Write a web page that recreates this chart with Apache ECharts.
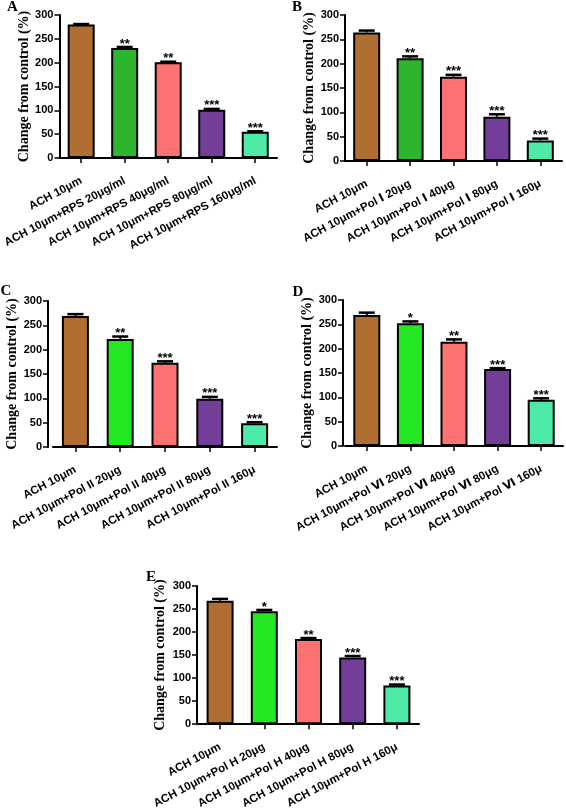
<!DOCTYPE html>
<html><head><meta charset="utf-8">
<script src="https://cdn.jsdelivr.net/npm/echarts@6/dist/echarts.min.js"></script>
<style>html,body{margin:0;padding:0;background:#fff}#c{width:566px;height:811px}</style>
</head><body><div id="c"></div>
<script>
// ---- data ----
const yAxisName = 'Change from control (%)';
const yMin = 0, yMax = 300, yStep = 50;

const catsA = ['ACH 10μm','ACH 10μm+RPS 20μg/ml','ACH 10μm+RPS 40μg/ml','ACH 10μm+RPS 80μg/ml','ACH 10μm+RPS 160μg/ml'];
const valsA = [280, 231, 201, 101, 55];
const errA  = [1, 2, 1, 2, 1];
const sigA  = ['', '**', '**', '***', '***'];

const catsB = ['ACH 10μm','ACH 10μm+Pol Ⅰ 20μg','ACH 10μm+Pol Ⅰ 40μg','ACH 10μm+Pol Ⅰ 80μg','ACH 10μm+Pol Ⅰ 160μ'];
const valsB = [264, 211, 173, 91, 42];
const errB  = [4, 4, 4, 5, 4];
const sigB  = ['', '**', '***', '***', '***'];

const catsC = ['ACH 10μm','ACH 10μm+Pol II 20μg','ACH 10μm+Pol II 40μg','ACH 10μm+Pol II 80μg','ACH 10μm+Pol II 160μ'];
const valsC = [269, 222, 173, 99, 49];
const errC  = [4, 5, 3, 4, 2];
const sigC  = ['', '**', '***', '***', '***'];

const catsD = ['ACH 10μm','ACH 10μm+Pol Ⅵ 20μg','ACH 10μm+Pol Ⅵ 40μg','ACH 10μm+Pol Ⅵ 80μg','ACH 10μm+Pol Ⅵ 160μ'];
const valsD = [269, 252, 214, 158, 95];
const errD  = [5, 4, 5, 2, 3];
const sigD  = ['', '*', '**', '***', '***'];

const catsE = ['ACH 10μm','ACH 10μm+Pol H 20μg','ACH 10μm+Pol H 40μg','ACH 10μm+Pol H 80μg','ACH 10μm+Pol H 160μ'];
const valsE = [268, 245, 185, 145, 84];
const errE  = [4, 3, 2, 3, 2];
const sigE  = ['', '*', '**', '***', '***'];

// ---- styles / layout ----
const colorsDark  = ['#B06E30', '#2DB52D', '#FF7272', '#733E97', '#4EEBA8'];
const colorsLight = ['#B06E30', '#22E822', '#FF7272', '#733E97', '#4EEBA8'];
const sansFont = '"Liberation Sans", Arial, "DejaVu Sans", "Noto Sans CJK SC", sans-serif';
const serifFont = '"Liberation Serif", "Times New Roman", serif';

const panels = [
  {letter:'A', cats:catsA, vals:valsA, err:errA, sig:sigA, colors:colorsDark,  grid:{left:59, top:15,  width:218, height:143}, off:0, gap:25, lp:[12.5, 7.5]},
  {letter:'B', cats:catsB, vals:valsB, err:errB, sig:sigB, colors:colorsDark,  grid:{left:345,top:15,  width:217, height:146}, off:0, gap:27, lp:[297, 7.5]},
  {letter:'C', cats:catsC, vals:valsC, err:errC, sig:sigC, colors:colorsLight, grid:{left:53, top:301, width:224, height:146}, off:5, gap:19, lp:[6, 291]},
  {letter:'D', cats:catsD, vals:valsD, err:errD, sig:sigD, colors:colorsLight, grid:{left:345,top:300, width:218, height:146}, off:2, gap:26, lp:[298, 292]},
  {letter:'E', cats:catsE, vals:valsE, err:errE, sig:sigE, colors:colorsLight, grid:{left:198,top:586, width:221, height:147}, off:1, gap:30, lp:[151, 577]}
];

const grids = [], xAxes = [], yAxes = [], series = [], graphics = [];
panels.forEach((p, k) => {
  grids.push(Object.assign({containLabel:false}, p.grid));
  xAxes.push({
    type:'category', gridIndex:k, data:p.cats, boundaryGap:true,
    axisLine:{show:true, lineStyle:{color:'#000', width:2}},
    axisTick:{show:true, alignWithLabel:true, length:5, lineStyle:{color:'#000', width:1.5}},
    axisLabel:{interval:0, rotate:28, margin:22, color:'#000', fontFamily:sansFont, fontWeight:'bold', fontSize:11.5},
    splitLine:{show:false}
  });
  yAxes.push({
    type:'value', gridIndex:k, min:yMin, max:yMax, interval:yStep, offset:p.off,
    name:yAxisName, nameLocation:'middle', nameGap:p.gap, nameRotate:90,
    nameTextStyle:{fontFamily:serifFont, fontWeight:'bold', fontSize:14, color:'#000'},
    axisLine:{show:true, lineStyle:{color:'#000', width:2}},
    axisTick:{show:true, length:5, lineStyle:{color:'#000', width:1.5}},
    axisLabel:{margin:6, color:'#000', fontFamily:sansFont, fontWeight:'bold', fontSize:11},
    splitLine:{show:false}
  });
  series.push({
    type:'bar', xAxisIndex:k, yAxisIndex:k, barWidth:27, z:2,
    data:p.vals.map((v, i) => ({value:v, itemStyle:{color:p.colors[i]}})),
    itemStyle:{borderColor:'#000', borderWidth:2},
    emphasis:{disabled:true}, animation:false
  });
  const sig = p.sig;
  series.push({
    type:'custom', xAxisIndex:k, yAxisIndex:k, z:5, animation:false,
    data:p.vals.map((v, i) => [i, v, p.err[i]]),
    encode:{x:0, y:1},
    renderItem:(params, api) => {
      const i = api.value(0), v = api.value(1), e = api.value(2);
      const top = api.coord([i, v + e]);
      const base = api.coord([i, v]);
      const children = [
        {type:'line', shape:{x1:top[0], y1:base[1], x2:top[0], y2:top[1]}, style:{stroke:'#000', lineWidth:2}},
        {type:'line', shape:{x1:top[0]-8, y1:top[1], x2:top[0]+8, y2:top[1]}, style:{stroke:'#000', lineWidth:2.5}}
      ];
      const s = sig[params.dataIndex];
      if (s) children.push({type:'text', style:{text:s, x:top[0], y:top[1]-3, align:'center', verticalAlign:'middle',
        fontFamily:sansFont, fontWeight:'bold', fontSize:13, fill:'#000'}});
      return {type:'group', children};
    }
  });
  graphics.push({type:'text', x:p.lp[0], y:p.lp[1],
    style:{text:p.letter, x:0, y:0, align:'center', verticalAlign:'middle', fontFamily:serifFont, fontWeight:'bold', fontSize:15, fill:'#000'}});
});

const chart = echarts.init(document.getElementById('c'), null, {renderer:'canvas'});
chart.setOption({
  backgroundColor:'#fff', animation:false,
  grid:grids, xAxis:xAxes, yAxis:yAxes, series:series, graphic:graphics
});
</script></body></html>
